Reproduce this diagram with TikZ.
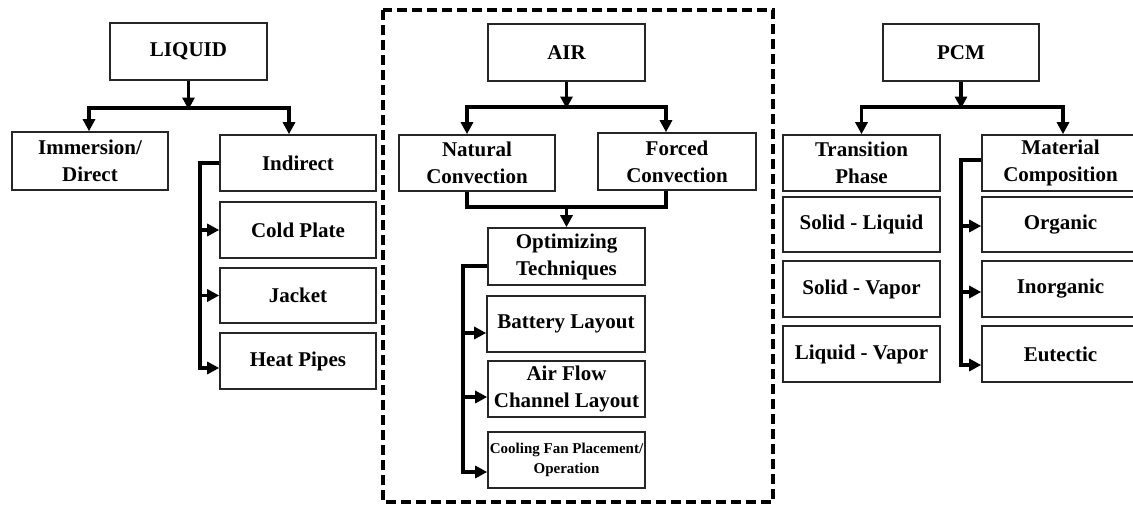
\documentclass[tikz,border=0pt]{standalone}
\usepackage{fontspec}
\setmainfont{Liberation Serif}
\usetikzlibrary{arrows.meta,calc}
\begin{document}
\begin{tikzpicture}[x=1pt,y=-1pt,
  bx/.style={draw=black!85,line width=1.6pt,minimum width=156pt,minimum height=56pt,inner sep=0pt,align=center,font=\bfseries\fontsize{21}{27}\selectfont},
  conn/.style={line width=3.6pt,black},
  arr/.style={conn,-{Triangle[length=12pt,width=12pt]}},
  frame/.style={line width=3.4pt,dash pattern=on 10pt off 5pt}]
\useasboundingbox (0,0) rectangle (1133,506);
% frame
\draw[frame] (383,10) rectangle (773,502);
% LIQUID
\node[bx,minimum width=157pt,minimum height=57pt] (liq) at (188.5,51.5) {LIQUID};
\node[bx,minimum height=58pt] (imm) at (90,161) {Immersion/\\Direct};
\node[bx] (ind) at (298,163) {Indirect};
\node[bx] (cold) at (298,230) {Cold Plate};
\node[bx,minimum height=55pt] (jack) at (298,295.5) {Jacket};
\node[bx] (heat) at (298,361) {Heat Pipes};
\coordinate (lq) at (188.5,108);
\draw[arr] (liq.south) -- ($(lq)+(0,1.5)$);
\draw[arr] (lq) -| ($(imm.north)+(-1,0)$);
\draw[arr] (lq) -| ($(ind.north)+(-9,0)$);
\coordinate (sp1) at (200,163);
\draw[conn] (ind.west) -- (sp1) |- ($(heat.west)+(-12,7)$);
\draw[arr] (cold.west -| sp1) -- (cold.west);
\draw[arr] (jack.west -| sp1) -- (jack.west);
\draw[arr] ($(heat.west -| sp1)+(0,7)$) -- ($(heat.west)+(0,7)$);
% AIR
\node[bx,minimum width=157pt,minimum height=57pt] (air) at (566.5,52.5) {AIR};
\node[bx] (nat) at (477,163) {Natural\\Convection};
\node[bx,minimum width=158pt,minimum height=57pt] (forc) at (677,161.5) {Forced\\Convection};
\coordinate (aq) at (566.5,107);
\draw[arr] (air.south) -- ($(aq)+(0,1.5)$);
\draw[arr] (aq) -| ($(nat.north)+(-10,0)$);
\draw[arr] (aq) -| ($(forc.north)+(-11,0)$);
\node[bx,minimum width=157pt,minimum height=57pt] (opt) at (566.5,256.5) {Optimizing\\Techniques};
\coordinate (aj) at (566.5,207);
\draw[conn] ($(nat.south)+(-10,0)$) |- (aj) -| ($(forc.south)+(-11,0)$);
\draw[arr] (aj) -- (opt.north);
\node[bx,minimum width=158pt] (bat) at (566,324) {Battery Layout};
\node[bx,minimum width=157pt] (flow) at (566.5,389) {Air Flow\\Channel Layout};
\node[bx,minimum width=157pt,font=\bfseries\fontsize{15}{20}\selectfont] (fan) at (566.5,460) {Cooling Fan Placement/\\Operation};
\coordinate (sp2) at (463,266);
\draw[conn] (opt.west |- sp2) -- (sp2) |- ($(fan.west)+(-12,12)$);
\draw[arr] ($(bat.west -| sp2)+(0,9)$) -- ($(bat.west)+(0,9)$);
\draw[arr] ($(flow.west -| sp2)+(0,8)$) -- ($(flow.west)+(0,8)$);
\draw[arr] ($(fan.west -| sp2)+(0,12)$) -- ($(fan.west)+(0,12)$);
% PCM
\node[bx,minimum width=156pt,minimum height=57pt] (pcm) at (961,52.5) {PCM};
\node[bx,minimum width=157pt] (tran) at (861.5,163) {Transition\\Phase};
\node[bx,minimum width=157pt] (mat) at (1060.5,163) {Material\\Composition};
\coordinate (pq) at (961,107);
\draw[arr] (pcm.south) -- ($(pq)+(0,1.5)$);
\draw[arr] (pq) -| (tran.north);
\draw[arr] (pq) -| ($(mat.north)+(2.5,0)$);
\node[bx,minimum width=157pt,minimum height=55pt] (sl) at (861.5,224.5) {Solid - Liquid};
\node[bx,minimum width=157pt] (sv) at (861.5,289) {Solid - Vapor};
\node[bx,minimum width=157pt] (lv) at (861.5,354) {Liquid - Vapor};
\node[bx,minimum width=157pt,minimum height=55pt] (org) at (1060.5,224.5) {Organic};
\node[bx,minimum width=157pt] (inorg) at (1060.5,289) {Inorganic};
\node[bx,minimum width=157pt] (eut) at (1060.5,354) {Eutectic};
\coordinate (sp3) at (961,160);
\draw[conn] (mat.west |- sp3) -- (sp3) |- ($(eut.west)+(-12,11)$);
\draw[arr] ($(org.west -| sp3)+(0,1.5)$) -- ($(org.west)+(0,1.5)$);
\draw[arr] ($(inorg.west -| sp3)+(0,3)$) -- ($(inorg.west)+(0,3)$);
\draw[arr] ($(eut.west -| sp3)+(0,11)$) -- ($(eut.west)+(0,11)$);
\end{tikzpicture}
\end{document}
